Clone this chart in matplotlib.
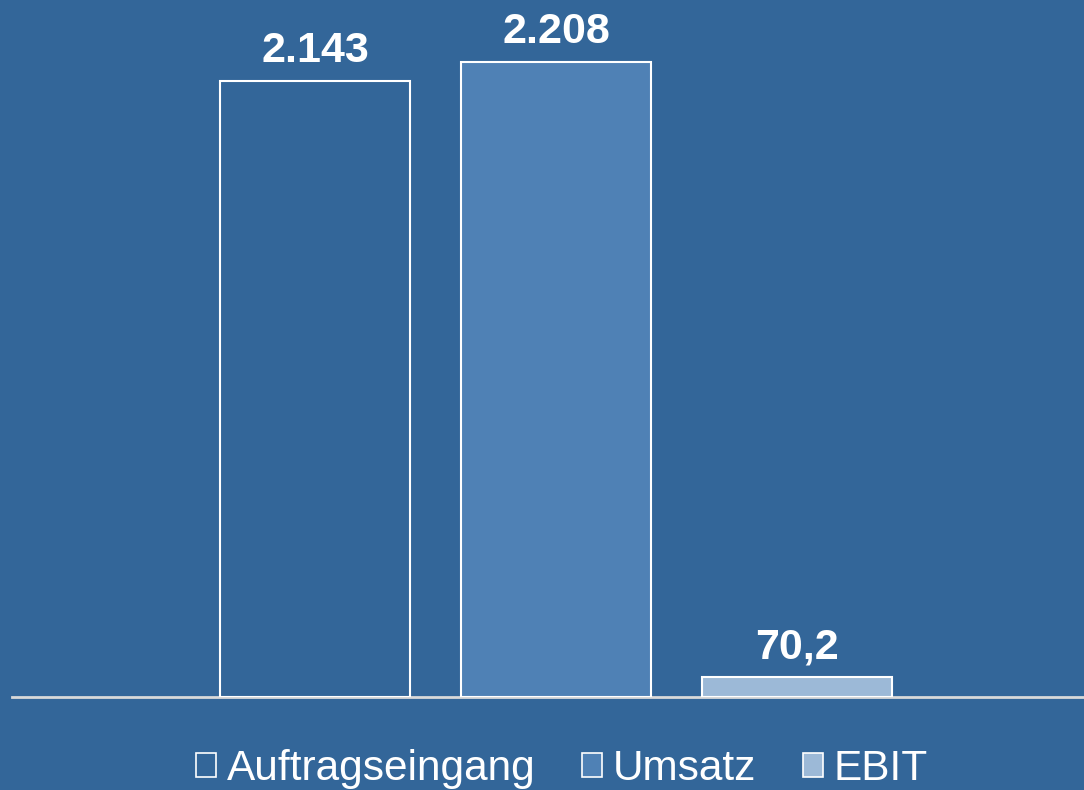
import matplotlib.pyplot as plt
from matplotlib.patches import Patch

BACKGROUND = "#336699"

series = ["Auftragseingang", "Umsatz", "EBIT"]
values = [2143, 2208, 70.2]
value_labels = ["2.143", "2.208", "70,2"]
fill_colors = [BACKGROUND, "#4f81b5", "#9cb9d7"]

plt.rcParams["font.family"] = ["Liberation Sans", "DejaVu Sans"]

fig = plt.figure(figsize=(10.84, 7.9), dpi=100, facecolor=BACKGROUND)
ax = fig.add_axes([12 / 1084, 93 / 790, 1072 / 1084, 697 / 790])
ax.set_facecolor(BACKGROUND)

positions = list(range(len(series)))
bars = ax.bar(
    positions,
    values,
    width=0.79,
    color=fill_colors,
    edgecolor="white",
    linewidth=1.5,
    zorder=3,
)

for bar, text in zip(bars, value_labels):
    ax.annotate(
        text,
        (bar.get_x() + bar.get_width() / 2, bar.get_height()),
        xytext=(0, 7),
        textcoords="offset points",
        ha="center",
        va="bottom",
        fontsize=31,
        fontweight="bold",
        color="white",
    )

ax.set_xlim(-1.257, 3.19)
ax.set_ylim(0, 2208 * 697 / 635)

for side in ["top", "left", "right"]:
    ax.spines[side].set_visible(False)
ax.spines["bottom"].set_color("#d9d9d9")
ax.spines["bottom"].set_linewidth(2)
ax.set_xticks([])
ax.set_yticks([])

handles = [
    Patch(facecolor=color, edgecolor="white", linewidth=1.2, label=name)
    for name, color in zip(series, fill_colors)
]
legend = fig.legend(
    handles=handles,
    loc="center",
    bbox_to_anchor=(562 / 1084, 1 - 769 / 790),
    ncol=3,
    frameon=False,
    fontsize=30.5,
    handlelength=0.47,
    handleheight=0.47,
    handletextpad=0.25,
    columnspacing=1.1,
    borderaxespad=0,
)
for text in legend.get_texts():
    text.set_color("white")

fig.savefig("out.png", dpi=100, facecolor=BACKGROUND)
